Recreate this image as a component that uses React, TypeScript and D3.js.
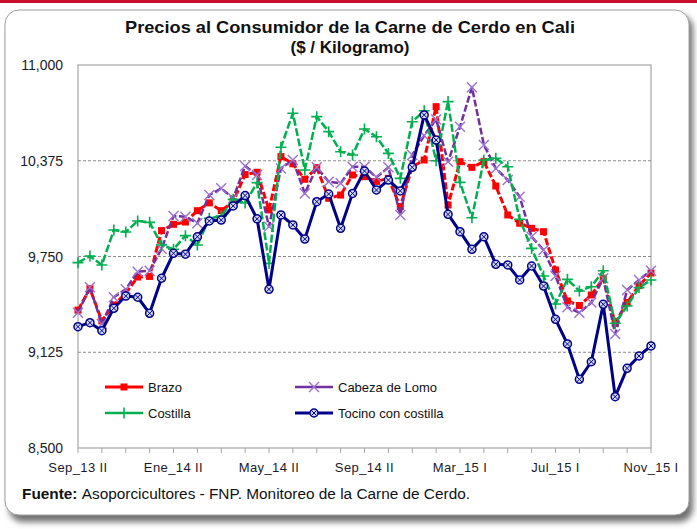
import React from 'react';
import * as d3 from 'd3';

const categories = [
  'Sep_13 II', 'Oct_13 I', 'Oct_13 II', 'Nov_13 I', 'Nov_13 II', 'Dic_13 I', 'Dic_13 II', 'Ene_14 I',
  'Ene_14 II', 'Feb_14 I', 'Feb_14 II', 'Mar_14 I', 'Mar_14 II', 'Abr_14 I', 'Abr_14 II', 'May_14 I',
  'May_14 II', 'Jun_14 I', 'Jun_14 II', 'Jul_14 I', 'Jul_14 II', 'Ago_14 I', 'Ago_14 II', 'Sep_14 I',
  'Sep_14 II', 'Oct_14 I', 'Oct_14 II', 'Nov_14 I', 'Nov_14 II', 'Dic_14 I', 'Feb_15 I', 'Feb_15 II',
  'Mar_15 I', 'Mar_15 II', 'Abr_15 I', 'Abr_15 II', 'May_15 I', 'May_15 II', 'Jun_15 I', 'Jun_15 II',
  'Jul_15 I', 'Jul_15 II', 'Ago_15 I', 'Ago_15 II', 'Sep_15 I', 'Sep_15 II', 'Oct_15 I', 'Oct_15 II',
  'Nov_15 I',
];

const labeledCategories = ['Sep_13 II', 'Ene_14 II', 'May_14 II', 'Sep_14 II', 'Mar_15 I', 'Jul_15 I', 'Nov_15 I'];

const brazo = [
  9400, 9540, 9330, 9433, 9510, 9616, 9620, 9919, 9960, 9975,
  10049, 10100, 10049, 10108, 10285, 10300, 10054, 10402, 10355, 10254,
  10330, 10130, 10151, 10282, 10271, 10240, 10260, 10075, 10336, 10380,
  10728, 10086, 10369, 10332, 10369, 10210, 10021, 9967, 9934, 9912,
  9662, 9460, 9430, 9499, 9608, 9314, 9450, 9560, 9642,
];

const cabezaLomo = [
  9383, 9549, 9309, 9484, 9536, 9651, 9657, 9800, 10014, 10010,
  9967, 10151, 10195, 10130, 10341, 10282, 9945, 10325, 10380, 10162,
  10332, 10238, 10228, 10336, 10336, 10267, 10332, 10021, 10413, 10540,
  10645, 10369, 10597, 10854, 10478, 10325, 10249, 10140, 9879, 9792,
  9623, 9418, 9383, 9449, 9608, 9244, 9531, 9597, 9657,
];

const costilla = [
  9710, 9753, 9695, 9923, 9910, 9982, 9973, 9825, 9797, 9886,
  9825, 9999, 10014, 10123, 10099, 10232, 9705, 10463, 10685, 10315,
  10663, 10565, 10434, 10413, 10582, 10532, 10423, 10260, 10630, 10701,
  10375, 10761, 10234, 10003, 10380, 10391, 10336, 9993, 9803, 9623,
  9440, 9601, 9525, 9553, 9657, 9314, 9427, 9547, 9597,
];

const tocino = [
  9292, 9318, 9266, 9412, 9492, 9484, 9379, 9608, 9771, 9765,
  9879, 9982, 9988, 10080, 10148, 9996, 9536, 10021, 9956, 9864,
  10108, 10158, 9934, 10162, 10308, 10184, 10249, 10178, 10332, 10674,
  10510, 10025, 9912, 9797, 9879, 9699, 9695, 9597, 9688, 9557,
  9340, 9179, 8948, 9063, 9438, 8835, 9020, 9101, 9166,
];

const yTicks = [8500, 9125, 9750, 10375, 11000];

const W = 697;
const H = 529;
const plot = { left: 78, right: 651, top: 65, bottom: 448 };

const FONT = 'Liberation Sans, Arial, sans-serif';
const NARROW = 'Liberation Sans Narrow, Arial Narrow, Liberation Sans, Arial, sans-serif';

type Marker = 'square' | 'x' | 'plus' | 'circlex';

const series: { name: string; values: number[]; color: string; markerColor: string; width: number; dash: string | undefined; marker: Marker }[] = [
  { name: 'Brazo', values: brazo, color: '#FF0000', markerColor: '#FF0000', width: 3, dash: '7,2.5', marker: 'square' },
  { name: 'Cabeza de Lomo', values: cabezaLomo, color: '#7030A0', markerColor: '#9B72D0', width: 2.5, dash: '7,2.5', marker: 'x' },
  { name: 'Costilla', values: costilla, color: '#00B050', markerColor: '#00B050', width: 2.5, dash: '8,2.5', marker: 'plus' },
  { name: 'Tocino con costilla', values: tocino, color: '#000088', markerColor: '#000088', width: 3, dash: undefined, marker: 'circlex' },
];

function MarkerShape({ type, x, y, color }: { type: Marker; x: number; y: number; color: string }) {
  if (type === 'square') {
    return <rect x={x - 3.5} y={y - 3.5} width={7} height={7} fill={color} />;
  }
  if (type === 'x') {
    const s = 5;
    return (
      <path d={`M${x - s},${y - s}L${x + s},${y + s}M${x - s},${y + s}L${x + s},${y - s}`} stroke={color} strokeWidth={1.4} fill="none" />
    );
  }
  if (type === 'plus') {
    const s = 5.5;
    return (
      <path d={`M${x - s},${y}L${x + s},${y}M${x},${y - s}L${x},${y + s}`} stroke={color} strokeWidth={1.6} fill="none" />
    );
  }
  const r = 4;
  const d = 2.6;
  return (
    <g>
      <circle cx={x} cy={y} r={r} fill="#D4D8F4" stroke={color} strokeWidth={1.5} />
      <path d={`M${x - d},${y - d}L${x + d},${y + d}M${x - d},${y + d}L${x + d},${y - d}`} stroke={color} strokeWidth={1} />
    </g>
  );
}

export default function App() {
  const x = d3.scalePoint<string>().domain(categories).range([plot.left, plot.right]);
  const y = d3.scaleLinear().domain([8500, 11000]).range([plot.bottom, plot.top]);
  const fmt = d3.format(',');
  const line = d3
    .line<number>()
    .x((_, i) => x(categories[i]) as number)
    .y((d) => y(d));

  const legendItems = [
    { s: series[0], lx: 105, ly: 387 },
    { s: series[1], lx: 295, ly: 387 },
    { s: series[2], lx: 105, ly: 413 },
    { s: series[3], lx: 295, ly: 413 },
  ];

  return (
    <svg width={W} height={H} style={{ position: 'fixed', left: 0, top: 0, background: '#fff' }}>
      <defs>
        <filter id="shadow" x="-5%" y="-5%" width="110%" height="110%">
          <feGaussianBlur stdDeviation="3" />
        </filter>
      </defs>
      <rect x={0} y={0} width={W} height={H} fill="#fff" />
      <rect x={0} y={0} width={W} height={3} fill="#C8102E" />
      {/* frame shadow and frame */}
      <rect x={9} y={15} width={684} height={507} rx={14} fill="#707070" filter="url(#shadow)" />
      <rect x={5} y={10} width={684} height={505} rx={14} fill="#fff" stroke="#A0A0A0" strokeWidth={1} />

      {/* title */}
      <text x={350} y={33} textAnchor="middle" fontFamily={NARROW} fontWeight="bold" fontSize={17} fill="#111" textLength={450} lengthAdjust="spacingAndGlyphs">
        Precios al Consumidor  de la Carne de Cerdo en Cali
      </text>
      <text x={350} y={53} textAnchor="middle" fontFamily={NARROW} fontWeight="bold" fontSize={17} fill="#111">
        ($ / Kilogramo)
      </text>

      {/* plot area */}
      <rect x={plot.left} y={plot.top} width={plot.right - plot.left} height={plot.bottom - plot.top} fill="#fff" stroke="#A6A6A6" strokeWidth={1.2} />
      {yTicks.slice(1, -1).map((t) => (
        <line key={t} x1={plot.left} x2={plot.right} y1={y(t)} y2={y(t)} stroke="#8C8C8C" strokeWidth={1} strokeDasharray="3,2" />
      ))}
      {yTicks.map((t) => (
        <text key={t} x={63} y={y(t) + 5} textAnchor="end" fontFamily={FONT} fontSize={14} fill="#1a1a2a">
          {fmt(t)}
        </text>
      ))}
      {categories.map((c, i) =>
        i % 2 === 0 ? (
          <line key={c} x1={x(c)} x2={x(c)} y1={plot.bottom} y2={plot.bottom + 5} stroke="#A6A6A6" strokeWidth={1} />
        ) : null
      )}
      {labeledCategories.map((c) => (
        <text key={c} x={x(c)} y={472} textAnchor="middle" fontFamily={FONT} fontSize={13} letterSpacing={0.4} fill="#1a1a2a">
          {c}
        </text>
      ))}

      {/* series */}
      {series.map((s) => (
        <g key={s.name}>
          <path d={line(s.values) || ''} fill="none" stroke={s.color} strokeWidth={s.width} strokeLinejoin="round" strokeDasharray={s.dash} />
          {s.values.map((v, i) => (
            <MarkerShape key={i} type={s.marker} x={x(categories[i]) as number} y={y(v)} color={s.markerColor} />
          ))}
        </g>
      ))}

      {/* legend */}
      {legendItems.map(({ s, lx, ly }) => (
        <g key={s.name}>
          <line x1={lx} x2={lx + 38} y1={ly} y2={ly} stroke={s.color} strokeWidth={s.width} />
          <MarkerShape type={s.marker} x={lx + 19} y={ly} color={s.markerColor} />
          <text x={lx + 43} y={ly + 5} fontFamily={FONT} fontSize={13} fill="#111">
            {s.name}
          </text>
        </g>
      ))}

      {/* source */}
      <text x={22} y={499} fontFamily={NARROW} fontSize={14} fill="#111" textLength={448} lengthAdjust="spacingAndGlyphs">
        <tspan fontWeight="bold">Fuente: </tspan>
        <tspan>Asoporcicultores - FNP.  Monitoreo de la  Carne de Cerdo.</tspan>
      </text>
    </svg>
  );
}
